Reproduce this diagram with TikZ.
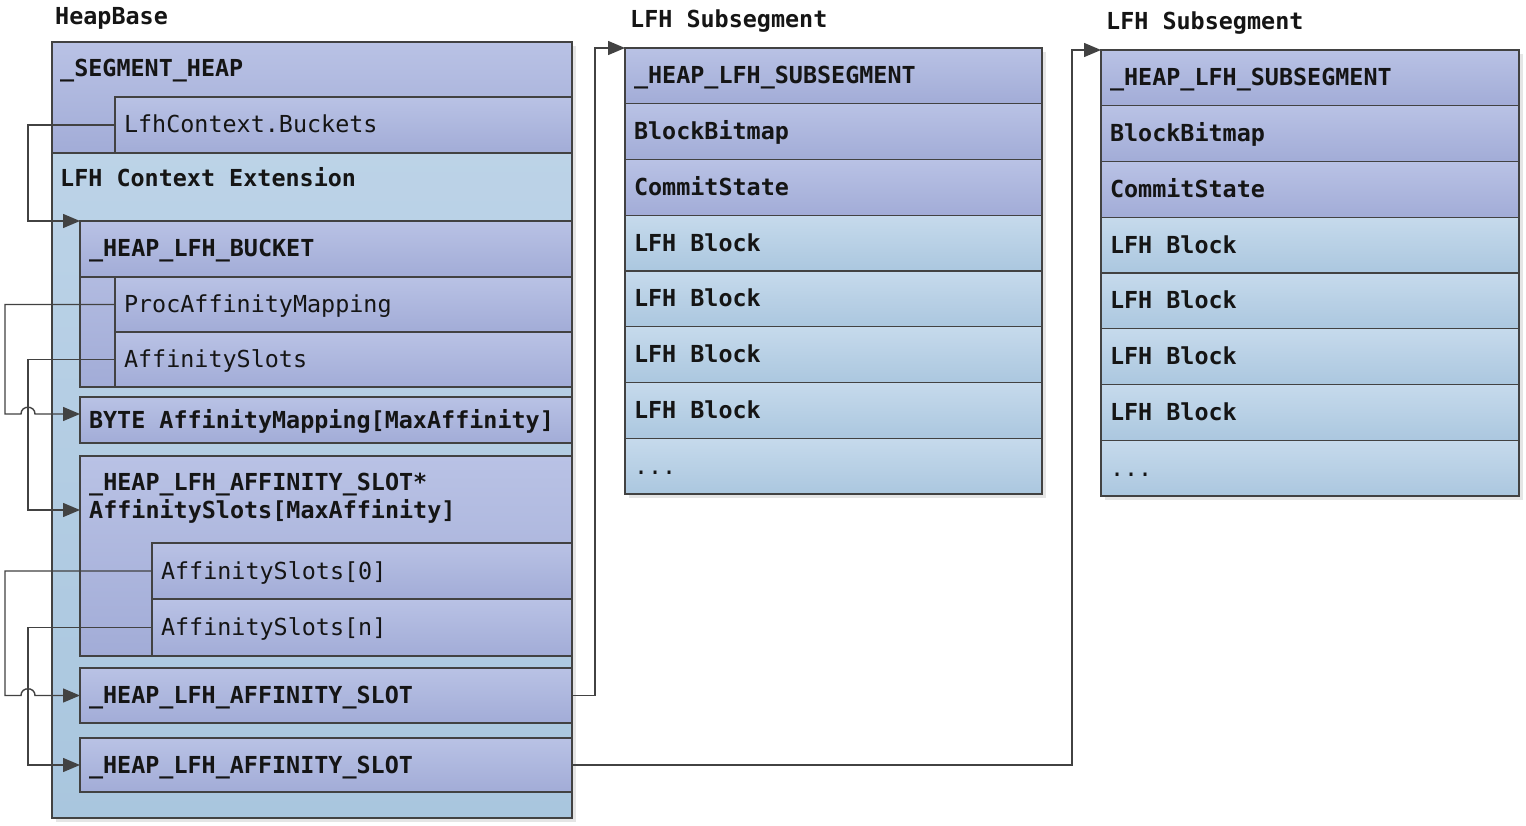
\documentclass[tikz,border=0pt]{standalone}
\usepackage{fontspec}
\setmonofont{DejaVu Sans Mono}
\usetikzlibrary{arrows.meta,shadows}
\definecolor{pu1}{HTML}{B9C2E5}
\definecolor{pu2}{HTML}{A2ACD7}
\definecolor{lb1}{HTML}{C6DAEC}
\definecolor{lb2}{HTML}{ABC7DF}
\definecolor{ob1}{HTML}{BFD5E9}
\definecolor{ob2}{HTML}{A9C6DE}
\definecolor{ln}{HTML}{424242}
\definecolor{tx}{HTML}{151515}
\newcommand\dfs{\fontsize{23.4}{28}\selectfont}
\newcommand\threedots{...}
\begin{document}
\begin{tikzpicture}[x=1pt,y=-1pt,
  every node/.style={font=\ttfamily\dfs, text=tx},
  bx/.style={draw=ln, line width=1.4pt, anchor=north west, outer sep=0pt,
             inner ysep=0pt, inner xsep=9pt, align=left,
             text height=16pt, text depth=0pt,
             execute at begin node={\spaceskip=0pt\relax\xspaceskip=0pt\relax}},
  pu/.style={top color=pu1, bottom color=pu2},
  lb/.style={top color=lb1, bottom color=lb2},
  bfnt/.style={font=\ttfamily\bfseries\dfs},
  rfnt/.style={font=\ttfamily\dfs},
  shd/.style={drop shadow={shadow xshift=4pt, shadow yshift=-4pt, fill=black, opacity=0.10}},
  tl/.style={anchor=west, inner sep=0pt, font=\ttfamily\bfseries\dfs, text height=16pt, text depth=0pt},
  conn/.style={draw=ln, line width=1.4pt},
  arr/.style={conn, -{Triangle[length=17pt,width=14pt]}},
]
\fill[white] (0,0) rectangle (1526,826);
\useasboundingbox (0,0) rectangle (1526,826);

% ---------- titles ----------
\node[tl] (hbT) at (55,16.5) {HeapBase};
\node[tl] (s1T) at (630,19.5) {LFH Subsegment};
\node[tl] (s2T) at (1106,22) {LFH Subsegment};

% ---------- HeapBase structure ----------
\node[bx, top color=ob1, bottom color=ob2, shd, minimum width=520pt, minimum height=776pt] (heapbase) at (52,42) {};
\node[bx, pu, minimum width=520pt, minimum height=111pt] (seg) at (52,42) {};
\node[tl] (segT) at (60,69) {\_SEGMENT\_HEAP};
\node[bx, pu, rfnt, text width=439pt, minimum height=56pt] (lfhb) at (115,97) {LfhContext.Buckets};
\node[tl] (extT) at (60,178.5) {LFH Context Extension};

\node[bx, pu, minimum width=492pt, minimum height=166pt] (bucket) at (80,221) {};
\node[bx, pu, bfnt, text width=474pt, minimum height=56pt] (bucketH) at (80,221) {\_HEAP\_LFH\_BUCKET};
\node[bx, pu, rfnt, text width=439pt, minimum height=55pt] (procmap) at (115,277) {ProcAffinityMapping};
\node[bx, pu, rfnt, text width=439pt, minimum height=55pt] (affslots) at (115,332) {AffinitySlots};

\node[bx, pu, bfnt, text width=474pt, minimum height=46pt] (bytemap) at (80,397) {BYTE AffinityMapping[MaxAffinity]};

\node[bx, pu, minimum width=492pt, minimum height=200pt] (aspt) at (80,456) {};
\node[tl] (asptT1) at (89,482.5) {\_HEAP\_LFH\_AFFINITY\_SLOT*};
\node[tl] (asptT2) at (89,510) {AffinitySlots[MaxAffinity]};
\node[bx, pu, rfnt, text width=402pt, minimum height=56pt] (as0) at (152,543) {AffinitySlots[0]};
\node[bx, pu, rfnt, text width=402pt, minimum height=57pt] (asn) at (152,599) {AffinitySlots[n]};

\node[bx, pu, bfnt, text width=474pt, minimum height=55pt] (slot1) at (80,668) {\_HEAP\_LFH\_AFFINITY\_SLOT};
\node[bx, pu, bfnt, text width=474pt, minimum height=54pt] (slot2) at (80,738) {\_HEAP\_LFH\_AFFINITY\_SLOT};

% ---------- LFH subsegments ----------
\node[bx, fill=white, draw=none, shd, minimum width=417pt, minimum height=446pt] (sub1) at (625,48) {};
\node[bx, fill=white, draw=none, shd, minimum width=418pt, minimum height=446pt] (sub2) at (1101,50) {};
\foreach \i/\t/\c/\f in {0/{\_HEAP\_LFH\_SUBSEGMENT}/pu/bfnt, 1/BlockBitmap/pu/bfnt,
    2/CommitState/pu/bfnt, 3/LFH Block/lb/bfnt, 4/LFH Block/lb/bfnt,
    5/LFH Block/lb/bfnt, 6/LFH Block/lb/bfnt, 7/\threedots/lb/rfnt}{
  \node[bx, \c, \f, text width=399pt, minimum height=55.75pt] (s1r\i) at (625,48+55.75*\i) {\t};
  \node[bx, \c, \f, text width=400pt, minimum height=55.75pt] (s2r\i) at (1101,50+55.75*\i) {\t};
}

% ---------- connectors ----------
\draw[arr] (lfhb.west) -- (lfhb.west -| 28,0) |- (bucket.north west);
\draw[arr] (procmap.west) -- (procmap.west -| 5,0) |- (21,414)
   .. controls (21,405) and (35,405) .. (35,414) -- ([yshift=6pt]bytemap.west);
\draw[arr] (affslots.west) -- (affslots.west -| 28,0) |- (aspt.west |- asptT2.west);
\draw[arr] (as0.west) -- (as0.west -| 5,0) |- (slot1.west -| 21,0)
   .. controls +(0,-9) and +(0,-9) .. (slot1.west -| 35,0) -- (slot1.west);
\draw[arr] (asn.west) -- (asn.west -| 28,0) |- (slot2.west);
\draw[arr] (slot1.east) -- (slot1.east -| 595,0) |- (s1r0.north west);
\draw[arr] (slot2.east) -- (slot2.east -| 1072,0) |- (s2r0.north west);
\end{tikzpicture}
\end{document}
